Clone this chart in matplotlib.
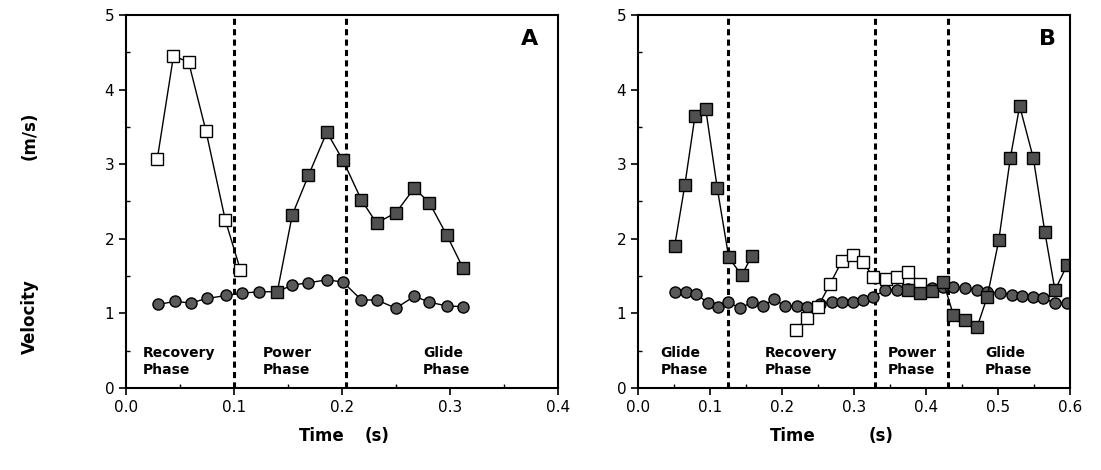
import numpy as np
import matplotlib
matplotlib.use("Agg")
import matplotlib.pyplot as plt
from matplotlib.ticker import MultipleLocator

# ---- panel A data ----
a_circ_t = [0.030, 0.045, 0.060, 0.075, 0.093, 0.107, 0.123, 0.140, 0.154, 0.169,
            0.186, 0.201, 0.218, 0.232, 0.250, 0.267, 0.281, 0.297, 0.312]
a_circ_v = [1.12, 1.16, 1.14, 1.20, 1.24, 1.27, 1.29, 1.29, 1.38, 1.41,
            1.45, 1.42, 1.18, 1.18, 1.07, 1.23, 1.15, 1.10, 1.09]
a_open_t = [0.029, 0.044, 0.058, 0.074, 0.092, 0.106]
a_open_v = [3.07, 4.45, 4.37, 3.45, 2.25, 1.58]
a_fill_t = [0.140, 0.154, 0.169, 0.186, 0.201, 0.218, 0.232, 0.250, 0.267, 0.281,
            0.297, 0.312]
a_fill_v = [1.28, 2.32, 2.85, 3.43, 3.05, 2.52, 2.21, 2.35, 2.68, 2.48, 2.05, 1.61]
a_phase_t = [0.100, 0.204]

# ---- panel B data ----
b_circ_t = [0.051, 0.067, 0.081, 0.097, 0.111, 0.125, 0.142, 0.158, 0.174, 0.189,
            0.204, 0.221, 0.235, 0.253, 0.269, 0.283, 0.299, 0.313, 0.326, 0.343,
            0.360, 0.375, 0.392, 0.408, 0.424, 0.438, 0.454, 0.471, 0.485, 0.503,
            0.519, 0.533, 0.549, 0.563, 0.579, 0.596]
b_circ_v = [1.28, 1.29, 1.26, 1.14, 1.09, 1.15, 1.07, 1.15, 1.10, 1.19,
            1.10, 1.10, 1.09, 1.12, 1.15, 1.15, 1.15, 1.18, 1.22, 1.31,
            1.31, 1.33, 1.32, 1.34, 1.36, 1.36, 1.34, 1.31, 1.29, 1.27,
            1.25, 1.23, 1.22, 1.20, 1.14, 1.14]
b_fill1_t = [0.051, 0.065, 0.079, 0.094, 0.110, 0.126, 0.144, 0.158]
b_fill1_v = [1.91, 2.72, 3.64, 3.74, 2.68, 1.75, 1.51, 1.77]
b_open_t = [0.219, 0.235, 0.250, 0.267, 0.283, 0.299, 0.313, 0.326, 0.344, 0.360,
            0.375, 0.392]
b_open_v = [0.78, 0.94, 1.09, 1.40, 1.70, 1.78, 1.69, 1.49, 1.46, 1.49, 1.56, 1.40]
b_fill2_t = [0.375, 0.392, 0.408, 0.424, 0.438, 0.454, 0.471, 0.485, 0.501, 0.517,
             0.530, 0.549, 0.565, 0.579, 0.596]
b_fill2_v = [1.31, 1.27, 1.30, 1.42, 0.98, 0.91, 0.82, 1.22, 1.98, 3.08,
             3.78, 3.08, 2.09, 1.31, 1.65]
b_phase_t = [0.125, 0.329, 0.431]

a_labels = [(0.016, "Recovery\nPhase"), (0.127, "Power\nPhase"), (0.275, "Glide\nPhase")]
b_labels = [(0.031, "Glide\nPhase"), (0.176, "Recovery\nPhase"),
            (0.347, "Power\nPhase"), (0.482, "Glide\nPhase")]

fig = plt.figure(figsize=(11.01, 4.70), dpi=100)
axA = fig.add_axes([0.1144, 0.1745, 0.3924, 0.7936])
axB = fig.add_axes([0.5795, 0.1745, 0.3924, 0.7936])

circ_kw = dict(color="black", lw=1.0, marker="o", ms=8, mfc="#5a5a5a", mec="black", mew=1.0)
fill_kw = dict(color="black", lw=1.0, marker="s", ms=8, mfc="#505050", mec="black", mew=1.0)
open_kw = dict(color="black", lw=1.0, marker="s", ms=8.5, mfc="white", mec="black", mew=1.0)


def style(ax, xmax, step, phases, labels, letter, lx):
    ax.set_xlim(0, xmax)
    ax.set_ylim(0, 5)
    ax.xaxis.set_major_locator(MultipleLocator(step))
    ax.xaxis.set_minor_locator(MultipleLocator(step / 2))
    ax.yaxis.set_major_locator(MultipleLocator(1))
    ax.yaxis.set_minor_locator(MultipleLocator(0.5))
    ax.xaxis.set_major_formatter(plt.FormatStrFormatter("%.1f"))
    ax.tick_params(which="major", direction="out", length=5, width=1.2, labelsize=11)
    ax.tick_params(which="minor", direction="in", length=3, width=1)
    for s in ax.spines.values():
        s.set_linewidth(1.5)
    for t in phases:
        ax.axvline(t, color="black", lw=2.2, ls=(0, (2.0, 1.4)), zorder=1)
    for t, txt in labels:
        ax.text(t, 0.36, txt, ha="left", va="center", fontsize=10, fontweight="bold",
                linespacing=1.25)
    ax.text(lx, 0.935, letter, transform=ax.transAxes, ha="center", va="center",
            fontsize=16, fontweight="bold")


axA.plot(a_circ_t, a_circ_v, **circ_kw)
axA.plot(a_open_t, a_open_v, **open_kw)
axA.plot(a_fill_t, a_fill_v, **fill_kw)
style(axA, 0.4, 0.1, a_phase_t, a_labels, "A", 0.935)

axB.plot(b_circ_t, b_circ_v, **circ_kw)
axB.plot(b_fill1_t, b_fill1_v, **fill_kw)
axB.plot(b_open_t, b_open_v, **open_kw)
axB.plot(b_fill2_t, b_fill2_v, **fill_kw)
style(axB, 0.6, 0.1, b_phase_t, b_labels, "B", 0.947)

# axis titles placed as in the original figure
lab = dict(fontsize=12, fontweight="bold", ha="center", va="center")
fig.text(30 / 1101, 1 - 317 / 470, "Velocity", rotation=90, **lab)
fig.text(30 / 1101, 1 - 136 / 470, "(m/s)", rotation=90, **lab)
fig.text(322 / 1101, 1 - 436 / 470, "Time", **lab)
fig.text(377 / 1101, 1 - 436 / 470, "(s)", **lab)
fig.text(793 / 1101, 1 - 436 / 470, "Time", **lab)
fig.text(881 / 1101, 1 - 436 / 470, "(s)", **lab)

fig.savefig("out.png", dpi=100)
